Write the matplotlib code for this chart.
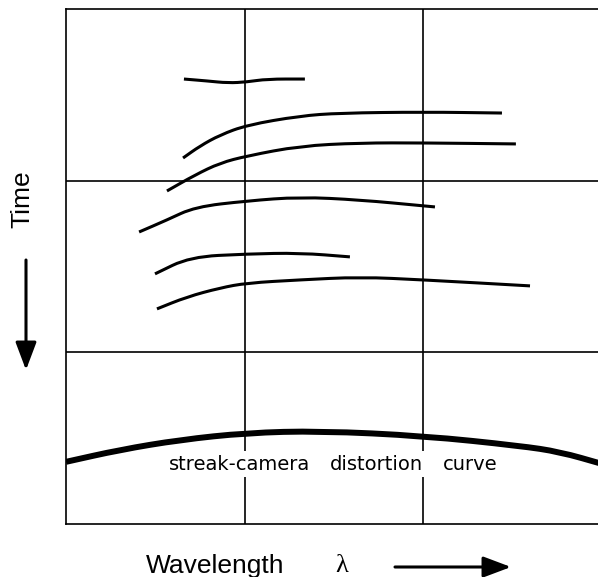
import matplotlib
matplotlib.use('Agg')
import matplotlib.pyplot as plt
from matplotlib.path import Path
from matplotlib.patches import PathPatch

# Streak-camera spectra: wavelength (grid units) vs time (grid units, downwards)
c1_x = [0.660, 0.789, 0.907, 1.013, 1.125, 1.337]
c1_y = [0.408, 0.419, 0.431, 0.425, 0.408, 0.408]

c2_x = [0.655, 0.750, 0.862, 1.013, 1.309, 1.533, 2.003, 2.440]
c2_y = [0.868, 0.798, 0.734, 0.676, 0.623, 0.606, 0.600, 0.606]

c3_x = [0.565, 0.722, 0.862, 1.013, 1.309, 1.645, 2.003, 2.518]
c3_y = [1.060, 0.967, 0.897, 0.856, 0.798, 0.780, 0.780, 0.786]

c4_x = [0.409, 0.565, 0.722, 1.013, 1.309, 1.645, 2.003, 2.065]
c4_y = [1.299, 1.229, 1.153, 1.118, 1.095, 1.112, 1.147, 1.153]

c5_x = [0.498, 0.694, 1.013, 1.309, 1.589]
c5_y = [1.543, 1.444, 1.427, 1.421, 1.444]

c6_x = [0.509, 0.677, 0.862, 1.013, 1.309, 1.645, 2.003, 2.597]
c6_y = [1.747, 1.677, 1.625, 1.596, 1.578, 1.561, 1.578, 1.613]

# streak-camera distortion curve
dist_x = [0.0, 0.302, 0.638, 1.013, 1.421, 2.003, 2.541, 2.764, 3.0]
dist_y = [2.638, 2.568, 2.510, 2.469, 2.458, 2.487, 2.545, 2.580, 2.650]

curves = [(c1_x, c1_y), (c2_x, c2_y), (c3_x, c3_y),
          (c4_x, c4_y), (c5_x, c5_y), (c6_x, c6_y)]


def smooth_path(x, y):
    # quadratic bezier through midpoints, so the hand drawn lines have no corners
    pts = list(zip(x, y))
    verts = [pts[0]]
    codes = [Path.MOVETO]
    mid = ((pts[0][0] + pts[1][0]) / 2, (pts[0][1] + pts[1][1]) / 2)
    verts.append(mid)
    codes.append(Path.LINETO)
    for i in range(1, len(pts) - 1):
        nxt = ((pts[i][0] + pts[i + 1][0]) / 2, (pts[i][1] + pts[i + 1][1]) / 2)
        verts += [pts[i], nxt]
        codes += [Path.CURVE3, Path.CURVE3]
    verts.append(pts[-1])
    codes.append(Path.LINETO)
    return Path(verts, codes)


fig = plt.figure(figsize=(5.98, 5.77), dpi=100)
ax = fig.add_axes([0.1104, 0.0919, 0.8963, 0.8925])
ax.set_xlim(0, 3)
ax.set_ylim(3, 0)

for s in ax.spines.values():
    s.set_linewidth(1.2)
ax.set_xticks([])
ax.set_yticks([])

# grid lines
for gx in [1, 2]:
    ax.axvline(gx, color='black', lw=1.2, zorder=1)
for gy in [1, 2]:
    ax.axhline(gy, color='black', lw=1.2, zorder=1)

for x, y in curves:
    ax.add_patch(PathPatch(smooth_path(x, y), facecolor='none', edgecolor='black',
                           lw=2.2, capstyle='butt', zorder=2))

ax.add_patch(PathPatch(smooth_path(dist_x, dist_y), facecolor='none',
                       edgecolor='black', lw=4.3, zorder=2))

# label on distortion curve (white box cuts the grid lines)
lab_font = dict(family='DejaVu Sans', fontsize=14, color='black', zorder=4,
                ha='center', va='baseline')
box = dict(facecolor='white', edgecolor='none', pad=2.5)
ax.text(0.974, 2.685, 'streak-camera', bbox=box, **lab_font)
ax.text(1.738, 2.685, 'distortion', bbox=box, **lab_font)
ax.text(2.262, 2.685, 'curve', bbox=box, **lab_font)

# axis captions
fig.text(22 / 598, 1 - 199 / 577, 'Time', rotation=90, ha='center', va='center',
         family='Liberation Sans', fontsize=19)
fig.text(215 / 598, 1 - 573 / 577, 'Wavelength', ha='center', va='baseline',
         family='Liberation Sans', fontsize=19)
fig.text(342 / 598, 1 - 566 / 577, 'λ', ha='center', va='center',
         family='Liberation Serif', fontsize=19)

arrow = dict(arrowstyle='-|>,head_length=0.85,head_width=0.32',
             mutation_scale=20, lw=2.2, color='black', shrinkA=0, shrinkB=0)
ax.annotate('', xy=(26, 577 - 370), xytext=(26, 577 - 260),
            xycoords='figure pixels', textcoords='figure pixels',
            arrowprops=arrow, annotation_clip=False)
ax.annotate('', xy=(511, 577 - 567), xytext=(395, 577 - 567),
            xycoords='figure pixels', textcoords='figure pixels',
            arrowprops=arrow, annotation_clip=False)

fig.savefig('out.png', dpi=100)
